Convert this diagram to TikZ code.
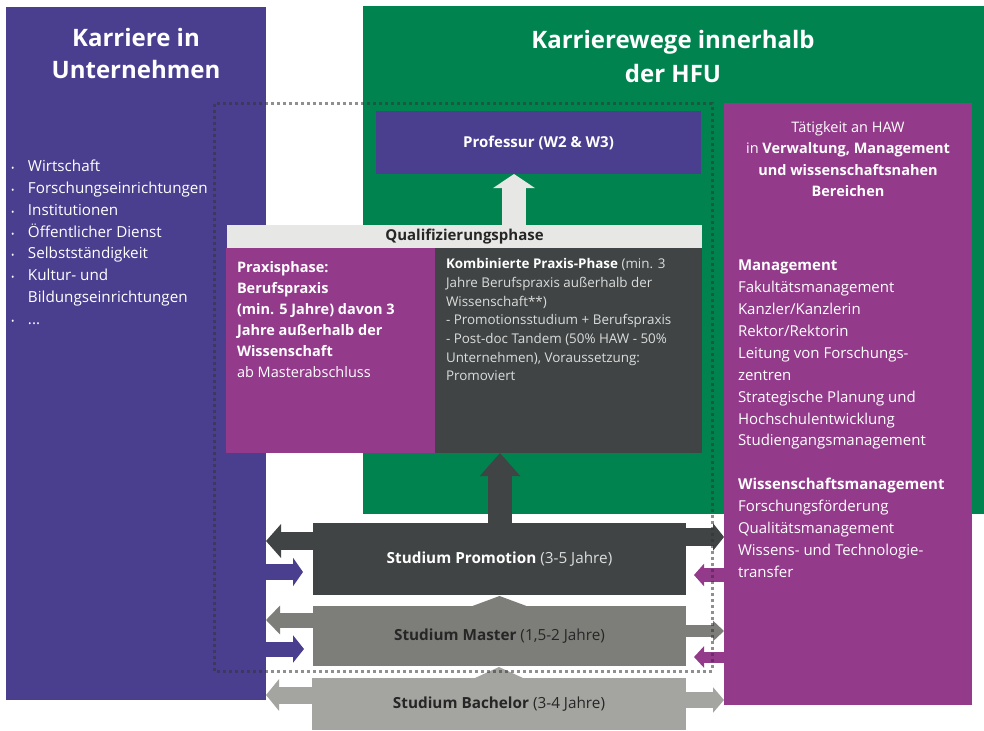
\documentclass[tikz,border=0pt]{standalone}
\usepackage{fontspec}
\setmainfont{Open Sans}
\usetikzlibrary{arrows.meta}
\definecolor{hfuviolet}{HTML}{4A3F8F}
\definecolor{hfugreen}{HTML}{00834F}
\definecolor{hfumagenta}{HTML}{933A8B}
\definecolor{hfudark}{HTML}{404444}
\definecolor{hfumid}{HTML}{7D7E79}
\definecolor{hfulight}{HTML}{A4A5A0}
\definecolor{hfupale}{HTML}{E7E7E5}
\definecolor{hfuink}{HTML}{262626}
\definecolor{hfusoft}{HTML}{DCDDDD}
\newcommand\fsize[2]{\fontsize{#1}{#2}\selectfont}
\newcommand\lbullet{\makebox[20pt][l]{\kern3pt{\fsize{9}{9}\textbullet}}}

\begin{document}
\begin{tikzpicture}[x=1pt, y=-1pt,
  panel/.style={inner sep=0pt, outer sep=0pt, anchor=north west},
  txt/.style={inner sep=0pt, outer sep=0pt, anchor=north west, align=left, text=white},
  barrow/.style n args={3}{line width=#1, -{Triangle[width=#2, length=#3]}},
  dotframe/.style={draw=black!80, opacity=0.55, line width=3pt, dash pattern=on 3pt off 3pt}]
\useasboundingbox[fill=white] (0,0) rectangle (984,730);
\node[panel, fill=hfuviolet, minimum width=260pt, minimum height=693pt] (firm) at (6,7) {};
\node[panel, fill=hfugreen, minimum width=621pt, minimum height=508pt] (hfu) at (363,6) {};
\node[panel, fill=hfumagenta, minimum width=248pt, minimum height=602pt] (haw) at (724,103) {};
\node[font=\fsize{24}{32}\bfseries, text=white, align=center] (firmtitle) at (136,54) {Karriere in\\Unternehmen};
\node[font=\fsize{24}{34}\bfseries, text=white, align=center] (hfutitle) at (673,57) {Karrierewege innerhalb\\der HFU};
\node[txt, font=\fsize{15.2}{21.8}] (firmlist) at (8,160) {\lbullet Wirtschaft\\\lbullet Forschungseinrichtungen\\\lbullet Institutionen\\\lbullet Öffentlicher Dienst\\\lbullet Selbstständigkeit\\\lbullet Kultur- und\\\hspace*{20pt}Bildungseinrichtungen\\\lbullet ...};

\node[panel, fill=hfuviolet, minimum width=325pt, minimum height=63pt, text=white, font=\fsize{15}{18}\bfseries] (prof) at (376,111) {Professur (W2 \& W3)};
\node[panel, fill=hfupale, minimum width=475pt, minimum height=23pt, text=hfuink, font=\fsize{15}{18}\bfseries] (qual) at (227,225) {Qualifizierungsphase};
\node[panel, fill=hfumagenta, minimum width=209pt, minimum height=205pt] (praxis) at (226,248) {};
\node[panel, fill=hfudark, minimum width=267pt, minimum height=205pt] (kombi) at (435,248) {};
\node[txt, font=\fsize{14.5}{21}] (praxistext) at (237,261) {\textbf{Praxisphase:}\\\textbf{Berufspraxis}\\\textbf{(min. 5 Jahre) davon 3}\\\textbf{Jahre außerhalb der}\\\textbf{Wissenschaft}\\ab Masterabschluss};
\node[txt, font=\fsize{13.4}{18.7}, text=hfusoft] (kombitext) at (446,258.5) {\textcolor{white}{\textbf{Kombinierte Praxis-Phase}} (min. 3\\Jahre Berufspraxis außerhalb der\\Wissenschaft**)\\- Promotionsstudium + Berufspraxis\\- Post-doc Tandem (50\% HAW - 50\%\\Unternehmen), Voraussetzung:\\Promoviert};

\node[txt, align=center, anchor=north, font=\fsize{14.5}{21.5}] (hawhead) at (848,121) {Tätigkeit an HAW\\in \textbf{Verwaltung, Management}\\\textbf{und wissenschaftsnahen}\\\textbf{Bereichen}};
\node[txt, font=\fsize{15}{21.9}] (hawlist) at (738,260) {\textbf{Management}\\Fakultätsmanagement\\Kanzler/Kanzlerin\\Rektor/Rektorin\\Leitung von Forschungs-\\zentren\\Strategische Planung und\\Hochschulentwicklung\\Studiengangsmanagement\\[21.9pt]\textbf{Wissenschaftsmanagement}\\Forschungsförderung\\Qualitätsmanagement\\Wissens- und Technologie-\\transfer};

\node[panel, fill=hfudark, minimum width=373pt, minimum height=72pt, text=white, font=\fsize{15.3}{18}] (promo) at (313,523) {\textbf{Studium Promotion} \textcolor{hfusoft}{(3-5 Jahre)}};
\node[panel, fill=hfumid, minimum width=373pt, minimum height=60pt, text=hfuink, font=\fsize{15.3}{18}] (master) at (313,606) {\textbf{Studium Master} (1,5-2 Jahre)};
\node[panel, fill=hfulight, minimum width=374pt, minimum height=52pt, text=hfuink, font=\fsize{15.3}{18}] (bachelor) at (312,678) {\textbf{Studium Bachelor} (3-4 Jahre)};
\fill[hfumid] (master.north) ++(-27,0) -- ++(27,-10) -- ++(27,10) -- cycle;
\fill[hfulight] (bachelor.north) ++(-24,0) -- ++(24,-11) -- ++(24,11) -- cycle;

\draw[barrow={24pt}{41pt}{14pt}, hfupale] (514,0 |- qual.north) -- (514,0 |- prof.south);
\draw[barrow={24pt}{39pt}{23pt}, hfudark] (500,0 |- promo.north) -- (500,0 |- kombi.south);

\draw[barrow={18pt}{33pt}{15pt}, hfudark] (promo.west |- 0,541) -- (firm.east |- 0,541);
\draw[barrow={16pt}{28pt}{10pt}, hfuviolet] (firm.east |- 0,572) -- ++(37,0);
\draw[barrow={15pt}{28pt}{14pt}, hfumid] (master.west |- 0,620) -- (firm.east |- 0,620);
\draw[barrow={15pt}{27pt}{11pt}, hfuviolet] (firm.east |- 0,649) -- ++(38,0);
\draw[barrow={17pt}{31pt}{13pt}, hfulight] (bachelor.west |- 0,695) -- (firm.east |- 0,695);

\draw[barrow={18pt}{27pt}{11pt}, hfudark] (promo.east |- 0,537) -- (haw.west |- 0,537);
\draw[barrow={14pt}{22pt}{10pt}, hfumagenta] (haw.west |- 0,575) -- ++(-30,0);
\draw[barrow={12pt}{20pt}{11pt}, hfumid] (master.east |- 0,631) -- (haw.west |- 0,631);
\draw[barrow={11pt}{21pt}{10pt}, hfumagenta] (haw.west |- 0,657) -- ++(-30,0);
\draw[barrow={16pt}{25pt}{11pt}, hfulight] (bachelor.east |- 0,700) -- (haw.west |- 0,700);

\draw[dotframe] (214,104) rectangle (712,671);
\end{tikzpicture}
\end{document}
